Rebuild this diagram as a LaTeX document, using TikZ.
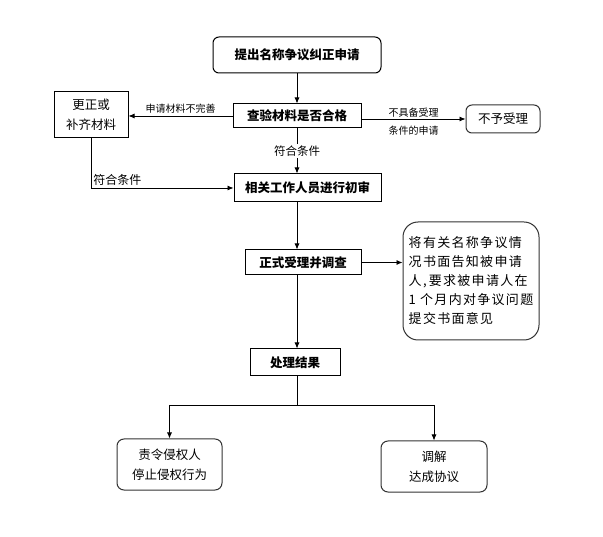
\documentclass[tikz,border=0pt]{standalone}
\usepackage{fontspec}
\setmainfont{Noto Sans CJK SC}
\usetikzlibrary{arrows.meta}

\begin{document}
\begin{tikzpicture}[x=1pt, y=-1pt,
    box/.style={draw, line width=1pt, inner sep=0pt, font=\fontsize{12.5}{15}\selectfont\bfseries},
    rbox/.style={draw=black!80, line width=1pt, inner sep=0pt, align=center, font=\fontsize{12.5}{20}\selectfont},
    arr/.style={-{Latex[length=6pt,width=5pt]}, line width=0.8pt},
    lbl/.style={font=\fontsize{10}{12}\selectfont, inner sep=2pt},
    lblb/.style={font=\fontsize{11.5}{13}\selectfont, inner sep=2pt}]
    \fill[white] (0,0) rectangle (603,537);

    \node[box, rounded corners=6pt, minimum width=168, minimum height=36] (apply) at (297,55) {提出名称争议纠正申请};
    \node[box, minimum width=128, minimum height=24] (check) at (297,116) {查验材料是否合格};
    \node[rbox, draw=black, minimum width=74, minimum height=46] (fix) at (91,115) {更正或\\补齐材料};
    \node[rbox, rounded corners=6pt, minimum width=74, minimum height=28] (reject) at (503,119) {不予受理};
    \node[box, minimum width=147, minimum height=28] (review) at (307.5,188) {相关工作人员进行初审};
    \node[box, minimum width=116, minimum height=25] (accept) at (303,262.5) {正式受理并调查};
    \node[rbox, rounded corners=15pt, minimum width=136, minimum height=118, align=left,
          font=\fontsize{13}{19}\selectfont\addfontfeature{LetterSpace=10}] (note) at (471,281)
          {将有关名称争议情\\况书面告知被申请\\人,\,要求被申请人在\\1 个月内对争议问题\\提交书面意见};
    \node[box, minimum width=90, minimum height=27] (result) at (295,362.5) {处理结果};
    \node[rbox, rounded corners=7pt, minimum width=105, minimum height=51] (order) at (169.5,464.5) {责令侵权人\\停止侵权行为};
    \node[rbox, rounded corners=7pt, minimum width=106, minimum height=51] (mediate) at (434,466.5) {调解\\达成协议};
    \coordinate (split) at (297,405);

    % main column
    \draw[arr] (apply.south) -- (check.north);
    \draw[arr] (check.south) -- (check.south |- review.north)
        node[midway, fill=white, lblb] {符合条件};
    \draw[arr] (review.south -| apply.south) -- (accept.north -| apply.south);
    \draw[arr] (accept.south -| apply.south) -- (result.north -| apply.south);

    % side branches
    \draw[arr] (check.west) -- (check.west -| fix.east)
        node[midway, above, lbl] {申请材料不完善};
    \draw[arr] (check.east |- reject) -- (reject.west)
        node[midway, above, lbl, yshift=-1pt] {不具备受理}
        node[midway, below, lbl, yshift=-5pt] {条件的申请};
    \draw[arr] (fix.south) |- (review.west)
        node[pos=0.5, above right, lblb, font=\fontsize{12}{14}\selectfont] {符合条件};
    \draw[arr] (accept.east) -- (accept.east -| note.west);

    % results
    \draw[line width=0.8pt] (result.south -| apply.south) -- (split);
    \draw[line width=0.8pt] (split -| order.north) -- (split -| mediate.north);
    \draw[arr] (split -| order.north) -- (order.north);
    \draw[arr] (split -| mediate.north) -- (mediate.north);
\end{tikzpicture}
\end{document}
